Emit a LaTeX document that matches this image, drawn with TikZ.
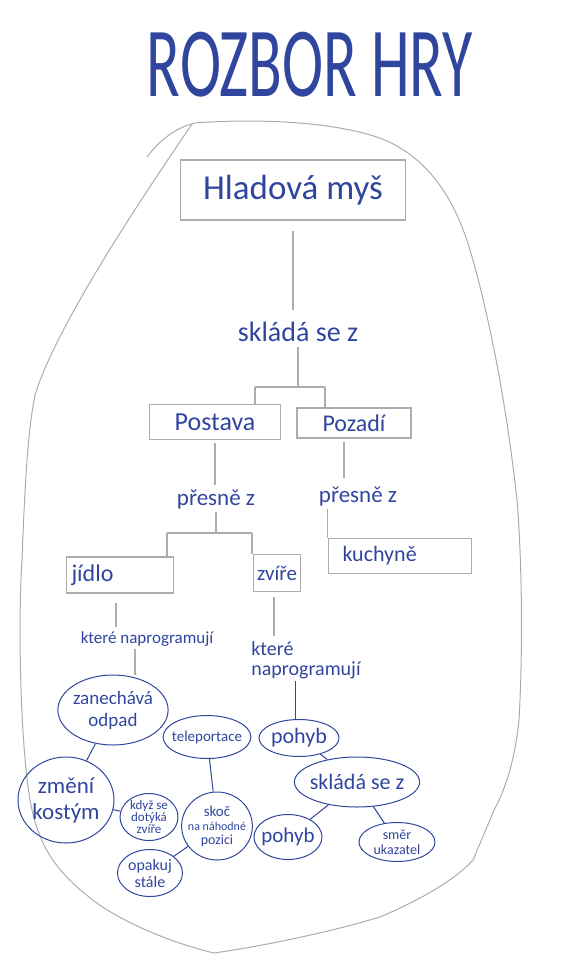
\documentclass[tikz,border=0pt]{standalone}
\usepackage{fontspec}
\setmainfont{Carlito}
\usetikzlibrary{shapes.geometric}
\definecolor{ink}{RGB}{48,70,158}
\definecolor{pencil}{RGB}{172,172,172}
\newcommand{\handfont}[2]{\fontsize{#1}{#2}\selectfont}

\begin{document}
\begin{tikzpicture}[x=1pt,y=-1pt,
  hand/.style={text=ink, inner sep=2pt},
  pbox/.style={draw=pencil, line width=1.3pt, text=ink, inner sep=1pt},
  oval/.style={ellipse, draw=ink, line width=1pt, text=ink, inner sep=-1pt, align=center},
  pline/.style={draw=pencil, line width=1.1pt},
  iline/.style={draw=ink, line width=1pt}]
\useasboundingbox (0,0) rectangle (568,967);
% outline round everything
\draw[pencil, line width=1pt] (147,157) .. controls (160,140) and (175,128) .. (195,123)
  .. controls (260,118) and (340,122) .. (385,140)
  .. controls (430,160) and (455,200) .. (470,250)
  .. controls (485,300) and (505,390) .. (517,500)
  .. controls (522,560) and (523,650) .. (519,720)
  .. controls (515,760) and (505,790) .. (495,808)
  -- (473,860)
  .. controls (455,880) and (420,900) .. (380,917)
  .. controls (320,935) and (250,948) .. (214,953)
  .. controls (160,940) and (110,915) .. (89,897)
  .. controls (55,870) and (38,845) .. (30,800)
  .. controls (20,740) and (18,620) .. (22,560)
  .. controls (25,480) and (28,430) .. (35,395)
  .. controls (55,330) and (130,215) .. (192,124);
%
\node[hand, font=\handfont{62}{62}](title) at (310,65) {\scalebox{1}[1.6]{ROZBOR HRY}};
\node[pbox, minimum width=225pt, minimum height=60pt, font=\handfont{35}{35}](hlad) at (293,190) {Hladová myš};
\node[hand, font=\handfont{28}{28}](sklada) at (298,332) {skládá se z};
\coordinate(forkL) at (255,387);
\coordinate(forkR) at (325,387);
\node[pbox, minimum width=131pt, minimum height=35pt, font=\handfont{26}{26}](postava) at (215,422) {Postava};
\node[pbox, minimum width=114pt, minimum height=30pt, font=\handfont{24}{24}](pozadi) at (354,423) {Pozadí};
\node[hand, font=\handfont{23}{23}](presA) at (216,500) {přesně z};
\node[hand, font=\handfont{23}{23}](presB) at (358,497) {přesně z};
\coordinate(forkC) at (167,533);
\coordinate(forkD) at (252,533);
\node[pbox, minimum height=36pt, text width=97pt, inner xsep=5pt, align=left, font=\handfont{24}{24}](jidlo) at (120,575) {jídlo};
\node[pbox, minimum width=47pt, minimum height=37pt, font=\handfont{21}{21}](zvire) at (277,573) {zvíře};
\node[pbox, minimum height=35pt, text width=115pt, inner xsep=14pt, align=left, font=\handfont{22}{22}](kuchyne) at (400,556) {kuchyně};
\node[hand, font=\handfont{17}{17}](ktereA) at (147,639) {které naprogramují};
\node[hand, align=left, font=\handfont{20}{20}](ktereB) at (306,660) {které\\naprogramují};
%
\node[oval, minimum width=110pt, minimum height=70pt, font=\handfont{19}{22}](zanech) at (113,710) {zanechává\\odpad};
\node[oval, inner sep=-4pt, minimum width=85pt, minimum height=43pt, font=\handfont{15}{15}](teleport) at (207,737) {teleportace};
\node[oval, minimum width=80pt, minimum height=37pt, font=\handfont{22}{22}](pohybA) at (299,738) {pohyb};
\node[oval, minimum width=96pt, minimum height=86pt, font=\handfont{23}{26}](zmeni) at (66,800) {změní\\kostým};
\node[oval, inner sep=-4pt, minimum width=58pt, minimum height=47pt, font=\handfont{13}{12}](kdyz) at (149,817) {když se\\dotýká\\zvíře};
\node[oval, inner sep=-4pt, minimum width=65pt, minimum height=68pt, font=\handfont{12}{14}](skoc) at (217,826) {{\handfont{15}{15}skoč}\\na náhodné\\{\handfont{14}{14}pozici}};
\node[oval, minimum width=65pt, minimum height=47pt, font=\handfont{16}{17}](opakuj) at (150,873) {opakuj\\stále};
\node[oval, inner sep=-3pt, minimum width=120pt, minimum height=50pt, font=\handfont{22}{22}](skladaB) at (357,782) {skládá se z};
\node[oval, inner sep=-3pt, minimum width=68pt, minimum height=45pt, font=\handfont{21}{21}](pohybB) at (288,837) {pohyb};
\node[oval, minimum width=76pt, minimum height=39pt, font=\handfont{14}{15}](smer) at (397,842) {směr\\ukazatel};
%
\draw[pline, shorten <=10pt, shorten >=10pt] (hlad.south) -- (hlad.south |- sklada.north);
\draw[pline, shorten <=3pt] (sklada.south) -- (sklada.south |- forkL);
\draw[pline] (forkL) -- (forkR);
\draw[pline] (forkL) -- (forkL |- postava.north);
\draw[pline] (forkR) -- (forkR |- pozadi.north);
\draw[pline, shorten <=3pt, shorten >=3pt] (postava.south) -- (postava.south |- presA.north);
\draw[pline, shorten <=3pt, shorten >=7pt] ([xshift=-10pt]pozadi.south) -- ([xshift=-10pt]pozadi.south |- presB.north);
\draw[pline] (presA.south) -- (presA.south |- forkC);
\draw[pline] (forkC) -- (forkD);
\draw[pline] (forkC) -- (forkC |- jidlo.north);
\draw[pline] (forkD) -- (forkD |- zvire.north);
\draw[pline] (kuchyne.north west) -- (kuchyne.north west |- presB.south);
\draw[pline, shorten <=9pt, shorten >=2pt] ([xshift=-4pt]jidlo.south) -- ([xshift=-4pt]jidlo.south |- ktereA.north);
\draw[pline, shorten <=5pt, shorten >=3pt] ([xshift=-3pt]zvire.south) -- ([xshift=-3pt]zvire.south |- ktereB.north);
\draw[pline] ([xshift=-12pt]ktereA.south) -- ([xshift=-12pt]ktereA.south |- zanech.north);
\draw[iline] ([xshift=-11pt]ktereB.south) -- ([xshift=-11pt]ktereB.south |- pohybA.north);
%
\draw[iline] (zanech) -- (zmeni);
\draw[iline] (zmeni) -- (kdyz);
\draw[iline] (teleport) -- (skoc);
\draw[iline] (skoc) -- (opakuj);
\draw[iline] (pohybA) -- (skladaB);
\draw[iline] (skladaB) -- (pohybB);
\draw[iline] (skladaB) -- (smer);
\end{tikzpicture}
\end{document}
